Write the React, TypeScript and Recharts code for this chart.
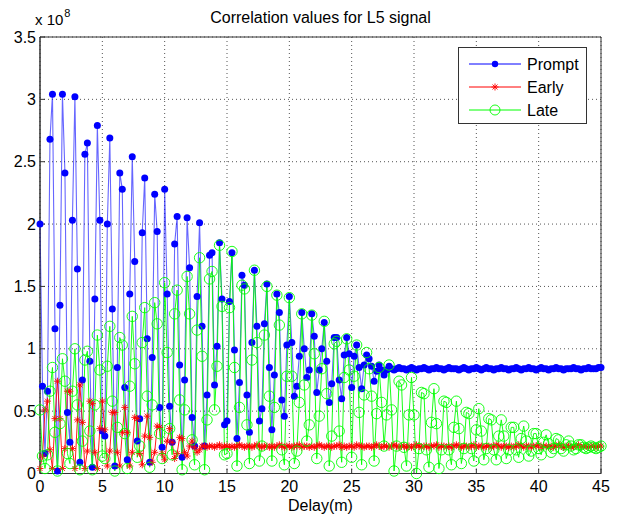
import { LineChart, Line, XAxis, YAxis, CartesianGrid, ReferenceArea } from "recharts";

// delay grid: one sample every 0.2 m, 0 .. 45 m
const STEP = 0.2;
const X_TICKS = [0, 5, 10, 15, 20, 25, 30, 35, 40, 45];
const Y_TICKS = [0, 0.5, 1, 1.5, 2, 2.5, 3, 3.5];
const SERIES_NAMES = ["Prompt", "Early", "Late"];

// correlation values, units of 1e8
const PROMPT = [
  2.0, 0.7, 0.16, 0.66, 2.68, 3.04, 1.16, 0.02, 1.35, 3.04,
  2.41, 0.49, 0.25, 2.03, 3.02, 1.64, 0.09, 0.75, 2.56, 2.65,
  0.9, 0.05, 1.4, 2.79, 2.03, 0.34, 0.3, 2.0, 2.69, 1.32,
  0.06, 0.85, 2.41, 2.28, 0.69, 0.11, 1.44, 2.54, 1.7, 0.26,
  0.44, 1.93, 2.37, 1.08, 0.09, 0.93, 2.24, 1.94, 0.53, 0.21,
  2.28, 1.44, 0.54, 0.25, 1.84, 2.06, 0.87, 0.13, 0.75, 2.05,
  1.65, 0.45, 0.22, 1.42, 2.01, 1.18, 0.22, 0.63, 1.75, 1.77,
  0.71, 1.02, 1.85, 1.4, 0.39, 0.42, 1.38, 1.77, 0.99, 0.28,
  0.73, 1.59, 1.51, 0.63, 0.33, 1.05, 1.63, 1.18, 0.42, 0.52,
  1.2, 1.52, 0.85, 0.35, 0.79, 1.44, 1.29, 0.59, 0.46, 1.03,
  1.42, 1.05, 0.62, 0.7, 0.94, 1.29, 1.0, 0.77, 0.83, 1.28,
  1.1, 0.65, 0.83, 1.0, 1.21, 0.9, 0.57, 0.72, 1.09, 1.09,
  0.75, 0.6, 0.95, 1.09, 0.96, 0.69, 0.94, 1.03, 0.85, 0.68,
  0.87, 0.95, 0.92, 0.86, 0.74, 0.82, 0.87, 0.83, 0.79, 0.83,
  0.86, 0.84, 0.83, 0.84, 0.85, 0.84, 0.84, 0.83, 0.84, 0.85,
  0.84, 0.83, 0.84, 0.84, 0.85, 0.84, 0.83, 0.84, 0.84, 0.85,
  0.84, 0.84, 0.83, 0.84, 0.85, 0.84, 0.84, 0.84, 0.83, 0.84,
  0.85, 0.84, 0.83, 0.84, 0.84, 0.85, 0.84, 0.83, 0.84, 0.85,
  0.84, 0.84, 0.83, 0.84, 0.84, 0.85, 0.84, 0.84, 0.83, 0.84,
  0.84, 0.85, 0.84, 0.83, 0.84, 0.84, 0.85, 0.84, 0.84, 0.83,
  0.84, 0.85, 0.84, 0.84, 0.83, 0.84, 0.84, 0.85, 0.84, 0.84,
  0.83, 0.84, 0.84, 0.84, 0.85, 0.84, 0.84, 0.83, 0.84, 0.84,
  0.85, 0.84, 0.84, 0.84, 0.85, 0.85,
];

const EARLY = [
  0.04, 0.14, 0.51, 0.58, 0.19, 0.04, 0.44, 0.74, 0.44, 0.04,
  0.2, 0.66, 0.66, 0.2, 0.04, 0.43, 0.71, 0.41, 0.04, 0.18,
  0.58, 0.56, 0.17, 0.04, 0.36, 0.58, 0.35, 0.06, 0.18, 0.49,
  0.49, 0.17, 0.06, 0.33, 0.53, 0.33, 0.06, 0.17, 0.45, 0.44,
  0.16, 0.07, 0.3, 0.46, 0.29, 0.09, 0.17, 0.38, 0.37, 0.16,
  0.11, 0.26, 0.36, 0.25, 0.12, 0.16, 0.29, 0.28, 0.17, 0.14,
  0.22, 0.26, 0.21, 0.17, 0.19, 0.22, 0.22, 0.21, 0.22, 0.22,
  0.21, 0.22, 0.23, 0.21, 0.22, 0.22, 0.21, 0.22, 0.21, 0.22,
  0.23, 0.22, 0.21, 0.22, 0.22, 0.21, 0.22, 0.23, 0.22, 0.21,
  0.22, 0.22, 0.21, 0.22, 0.21, 0.22, 0.23, 0.22, 0.21, 0.22,
  0.22, 0.21, 0.22, 0.22, 0.23, 0.21, 0.22, 0.22, 0.21, 0.22,
  0.21, 0.22, 0.23, 0.22, 0.21, 0.22, 0.22, 0.21, 0.22, 0.22,
  0.23, 0.21, 0.22, 0.21, 0.22, 0.22, 0.21, 0.23, 0.22, 0.22,
  0.21, 0.22, 0.22, 0.21, 0.22, 0.23, 0.22, 0.21, 0.22, 0.22,
  0.21, 0.22, 0.23, 0.22, 0.21, 0.22, 0.22, 0.21, 0.22, 0.21,
  0.22, 0.23, 0.22, 0.21, 0.22, 0.22, 0.21, 0.22, 0.22, 0.23,
  0.21, 0.22, 0.22, 0.21, 0.22, 0.21, 0.22, 0.23, 0.22, 0.21,
  0.22, 0.22, 0.21, 0.22, 0.23, 0.21, 0.22, 0.22, 0.21, 0.22,
  0.22, 0.21, 0.22, 0.23, 0.22, 0.21, 0.22, 0.22, 0.21, 0.22,
  0.21, 0.22, 0.23, 0.22, 0.21, 0.22, 0.22, 0.21, 0.22, 0.22,
  0.23, 0.21, 0.22, 0.22, 0.21, 0.22, 0.21, 0.22, 0.23, 0.22,
  0.21, 0.22, 0.22, 0.21, 0.22, 0.22, 0.23, 0.21, 0.22, 0.22,
  0.21, 0.22, 0.22, 0.21, 0.22, 0.22,
];

const LATE = [
  0.51, 0.14, 0.04, 0.15, 0.66, 0.85, 0.33, 0.02, 0.4, 0.92,
  0.74, 0.16, 0.08, 0.66, 1.0, 0.55, 0.03, 0.26, 0.91, 0.98,
  0.34, 0.03, 0.55, 1.11, 0.83, 0.14, 0.12, 0.86, 1.18, 0.58,
  0.02, 0.37, 1.09, 1.03, 0.32, 0.04, 0.7, 1.26, 0.88, 0.13,
  0.22, 1.05, 1.33, 0.62, 0.05, 0.55, 1.37, 1.2, 0.32, 0.12,
  1.53, 0.97, 0.36, 0.15, 1.28, 1.47, 0.59, 0.03, 0.51, 1.58,
  1.28, 0.27, 0.07, 1.15, 1.73, 0.94, 0.03, 0.43, 1.56, 1.62,
  0.51, 0.86, 1.83, 1.34, 0.15, 0.16, 1.33, 1.78, 0.85, 0.06,
  0.53, 1.51, 1.48, 0.39, 0.08, 0.91, 1.63, 1.05, 0.1, 0.22,
  1.11, 1.5, 0.62, 0.1, 0.53, 1.43, 1.19, 0.19, 0.07, 0.78,
  1.41, 0.78, 0.08, 0.18, 0.57, 1.28, 0.71, 0.26, 0.39, 1.27,
  0.96, 0.12, 0.46, 0.84, 1.22, 0.64, 0.06, 0.3, 1.04, 1.06,
  0.34, 0.09, 0.77, 1.08, 0.83, 0.13, 0.78, 1.03, 0.49, 0.07,
  0.63, 0.97, 0.84, 0.62, 0.1, 0.48, 0.85, 0.57, 0.22, 0.47,
  0.87, 0.51, 0.02, 0.22, 0.74, 0.71, 0.21, 0.06, 0.47, 0.77,
  0.47, 0.0, 0.2, 0.65, 0.64, 0.19, 0.05, 0.41, 0.68, 0.4,
  0.04, 0.19, 0.58, 0.57, 0.19, 0.07, 0.37, 0.58, 0.36, 0.08,
  0.2, 0.49, 0.48, 0.2, 0.1, 0.35, 0.52, 0.34, 0.11, 0.2,
  0.44, 0.43, 0.19, 0.11, 0.3, 0.43, 0.3, 0.12, 0.19, 0.37,
  0.37, 0.19, 0.13, 0.28, 0.38, 0.26, 0.14, 0.18, 0.32, 0.32,
  0.2, 0.15, 0.25, 0.31, 0.24, 0.17, 0.2, 0.28, 0.27, 0.2,
  0.18, 0.23, 0.26, 0.22, 0.19, 0.2, 0.23, 0.23, 0.21, 0.2,
  0.21, 0.22, 0.21, 0.2, 0.21, 0.22,
];

const data = PROMPT.map((p, i) => ({
  delay: Math.round(i * STEP * 10) / 10,
  prompt: p,
  early: EARLY[i],
  late: LATE[i],
}));

const FONT = "'Liberation Sans', Arial, sans-serif";

const PromptDot = (props: any) => {
  const { cx, cy, index } = props;
  if (cx == null || cy == null) return <g key={`p${index}`} />;
  return <circle key={`p${index}`} cx={cx} cy={cy} r={3.5} fill="#0000ff" />;
};

const asterisk = (cx: number, cy: number) =>
  `M${cx - 3.5},${cy}H${cx + 3.5}M${cx},${cy - 3.5}V${cy + 3.5}` +
  `M${cx - 2.5},${cy - 2.5}L${cx + 2.5},${cy + 2.5}M${cx - 2.5},${cy + 2.5}L${cx + 2.5},${cy - 2.5}`;

const EarlyDot = (props: any) => {
  const { cx, cy, index } = props;
  if (cx == null || cy == null) return <g key={`e${index}`} />;
  return <path key={`e${index}`} d={asterisk(cx, cy)} stroke="#ff0000" strokeWidth={0.9} fill="none" />;
};

const LateDot = (props: any) => {
  const { cx, cy, index } = props;
  if (cx == null || cy == null) return <g key={`l${index}`} />;
  return <circle key={`l${index}`} cx={cx} cy={cy} r={5.2} fill="none" stroke="#00ff00" strokeWidth={0.9} />;
};

function LegendBox() {
  const rows = [16, 39, 62];
  return (
    <div
      style={{
        position: "absolute",
        left: 458,
        top: 47,
        width: 127,
        height: 75,
        border: "1px solid #333",
        background: "#fff",
      }}
    >
      <svg width={127} height={75} style={{ display: "block" }}>
        {SERIES_NAMES.map((name, i) => {
          const y = rows[i];
          const color = ["#0000ff", "#ff0000", "#00ff00"][i];
          return (
            <g key={name}>
              <line x1={10} x2={62} y1={y} y2={y} stroke={color} strokeWidth={1} />
              {i === 0 && <circle cx={36} cy={y} r={3.2} fill={color} />}
              {i === 1 && <path d={asterisk(36, y)} stroke={color} strokeWidth={0.9} />}
              {i === 2 && <circle cx={36} cy={y} r={5} fill="none" stroke={color} strokeWidth={0.9} />}
              <text x={68} y={y + 5.5} fontSize={16} fontFamily={FONT} fill="#000">
                {name}
              </text>
            </g>
          );
        })}
      </svg>
    </div>
  );
}

export default function App() {
  return (
    <div
      style={{
        position: "absolute",
        left: 0,
        top: 0,
        width: 617,
        height: 515,
        background: "#fff",
        fontFamily: FONT,
        overflow: "hidden",
      }}
    >
      <LineChart
        width={617}
        height={515}
        data={data}
        margin={{ top: 37, right: 16, bottom: 0, left: 0 }}
      >
        <CartesianGrid stroke="#555" strokeDasharray="1 3" />
        <XAxis
          dataKey="delay"
          type="number"
          domain={[0, 45]}
          ticks={X_TICKS}
          interval={0}
          height={41.5}
          tickSize={-5}
          tickMargin={12}
          stroke="#333"
          tick={{ fill: "#000", fontSize: 16, fontFamily: FONT }}
        />
        <YAxis
          type="number"
          domain={[0, 3.5]}
          ticks={Y_TICKS}
          interval={0}
          width={40}
          tickSize={-5}
          tickMargin={9}
          stroke="#333"
          tick={{ fill: "#000", fontSize: 16, fontFamily: FONT }}
        />
        <ReferenceArea
          x1={0}
          x2={45}
          y1={0}
          y2={3.5}
          fill="none"
          stroke="#333"
          strokeWidth={1}
          ifOverflow="visible"
        />
        <Line
          dataKey="prompt"
          stroke="#0000ff"
          strokeWidth={1.1}
          strokeOpacity={0.6}
          dot={PromptDot}
          activeDot={false}
          isAnimationActive={false}
        />
        <Line
          dataKey="early"
          stroke="#ff0000"
          strokeWidth={0.9}
          dot={EarlyDot}
          activeDot={false}
          isAnimationActive={false}
        />
        <Line
          dataKey="late"
          stroke="#00ff00"
          strokeWidth={0.9}
          dot={LateDot}
          activeDot={false}
          isAnimationActive={false}
        />
      </LineChart>

      <div
        style={{
          position: "absolute",
          left: 0,
          width: 641,
          top: 9,
          textAlign: "center",
          fontSize: 16,
          lineHeight: "18px",
        }}
      >
        Correlation values for L5 signal
      </div>
      <div style={{ position: "absolute", left: 35, top: 11, fontSize: 15, lineHeight: "18px" }}>
        x 10
        <span style={{ fontSize: 11, position: "relative", top: -8, marginLeft: 1 }}>8</span>
      </div>
      <div
        style={{
          position: "absolute",
          left: 0,
          width: 641,
          top: 497,
          textAlign: "center",
          fontSize: 16,
          lineHeight: "18px",
        }}
      >
        Delay(m)
      </div>
      <LegendBox />
    </div>
  );
}
